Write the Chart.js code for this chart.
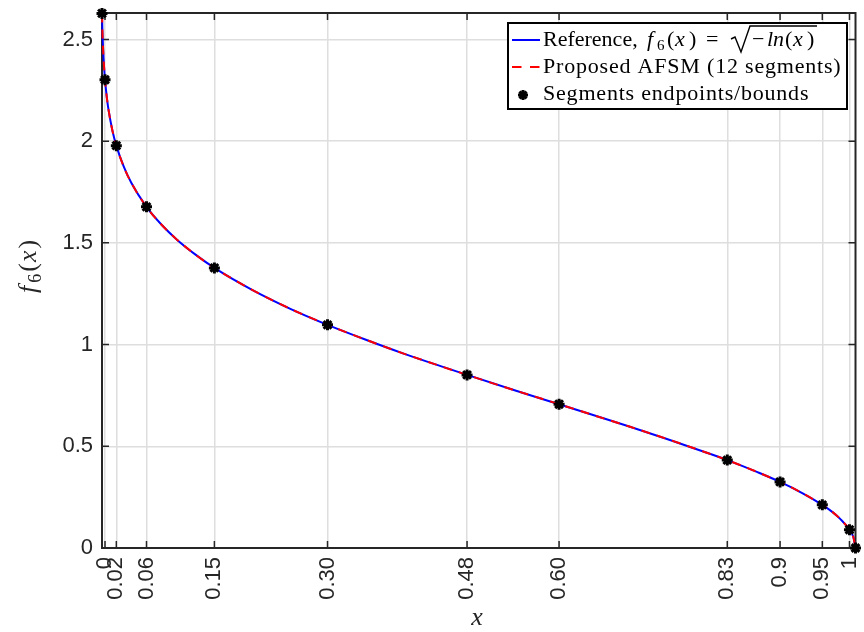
<!DOCTYPE html>
<html>
<head>
<meta charset="utf-8">
<script src="https://cdn.jsdelivr.net/npm/chart.js@4.4.1/dist/chart.umd.min.js"></script>
<style>
  html, body { margin: 0; padding: 0; background: #fff; }
</style>
</head>
<body>
<canvas id="chart" width="864" height="632"></canvas>
<script>
// reference curve
const curveX = [0.001, 0.0015, 0.002, 0.003, 0.005, 0.0075, 0.01, 0.015, 0.02, 0.03, 0.04, 0.06, 0.08, 0.10, 0.125, 0.15,
  0.20, 0.25, 0.30, 0.35, 0.40, 0.45, 0.485, 0.55, 0.607, 0.65, 0.70, 0.75, 0.80, 0.83, 0.87, 0.90, 0.93, 0.956, 0.97, 0.98, 0.992, 0.997, 1.0]
const curveY = [2.628, 2.550, 2.493, 2.410, 2.302, 2.212, 2.146, 2.049, 1.978, 1.873, 1.794, 1.677, 1.589, 1.517, 1.442, 1.377,
  1.269, 1.177, 1.097, 1.025, 0.957, 0.894, 0.851, 0.773, 0.707, 0.656, 0.597, 0.536, 0.472, 0.432, 0.373, 0.325, 0.269, 0.212, 0.175, 0.142, 0.090, 0.055, 0]

// segment endpoints (12 segments -> 13 points)
const endX = [0.001, 0.005, 0.02, 0.06, 0.15, 0.30, 0.485, 0.607, 0.83, 0.90, 0.956, 0.992, 1.0]
const endY = [2.628, 2.302, 1.978, 1.677, 1.377, 1.097, 0.851, 0.707, 0.432, 0.325, 0.212, 0.090, 0]

// ticks
const xTickVals = [0.005, 0.02, 0.06, 0.15, 0.30, 0.485, 0.607, 0.83, 0.90, 0.956, 0.992]
const xTickLabels = ['0', '0.02', '0.06', '0.15', '0.30', '0.48', '0.60', '0.83', '0.9', '0.95', '1']
const yTickVals = [0, 0.5, 1, 1.5, 2, 2.5]

const axisColor = '#262626'
const gridColor = '#dedede'
const tickFont = { family: 'Liberation Sans', size: 22 }
const serif = 'Liberation Serif'

const toPts = (xs, ys) => xs.map((x, i) => ({ x: x, y: ys[i] }))

// draws a run of text pieces left to right, returns end x
function drawRuns(ctx, runs, x, y) {
    for (const r of runs) {
        ctx.font = r.f
        ctx.fillText(r.t, r.x !== undefined ? r.x : x, y + (r.dy || 0))
        x = (r.x !== undefined ? r.x : x) + ctx.measureText(r.t).width + (r.sp || 0)
    }
    return x
}

const framePlugin = {
    id: 'frame',
    beforeDatasetsDraw(chart) {
        const { ctx, chartArea: a, scales } = chart
        const tl = 7
        ctx.save()
        ctx.strokeStyle = axisColor
        ctx.lineWidth = 1.5
        ctx.beginPath()
        for (const v of xTickVals) {
            const px = scales.x.getPixelForValue(v)
            ctx.moveTo(px, a.bottom); ctx.lineTo(px, a.bottom - tl)
            ctx.moveTo(px, a.top); ctx.lineTo(px, a.top + tl)
        }
        for (const v of yTickVals) {
            const py = scales.y.getPixelForValue(v)
            ctx.moveTo(a.left, py); ctx.lineTo(a.left + tl, py)
            ctx.moveTo(a.right, py); ctx.lineTo(a.right - tl, py)
        }
        ctx.stroke()
        ctx.lineWidth = 2
        ctx.strokeRect(a.left, a.top, a.right - a.left, a.bottom - a.top)
        ctx.restore()
    },
    afterDraw(chart) {
        const { ctx } = chart
        ctx.save()
        ctx.textBaseline = 'alphabetic'
        ctx.textAlign = 'left'

        // axis titles
        const it26 = `italic 26px ${serif}`, rm26 = `26px ${serif}`
        ctx.fillStyle = axisColor
        ctx.save()
        ctx.translate(36, 293)
        ctx.rotate(-Math.PI / 2)
        drawRuns(ctx, [
            { t: 'f', f: it26, sp: 3 },
            { t: '6', f: `18px ${serif}`, dy: 5, sp: 2 },
            { t: '(', f: rm26, sp: 1 },
            { t: 'x', f: it26, sp: 2 },
            { t: ')', f: rm26 }
        ], 0, 0)
        ctx.restore()
        ctx.textAlign = 'center'
        ctx.font = it26
        ctx.fillText('x', 477, 625)
        ctx.textAlign = 'left'

        // legend box
        const bx = 508, by = 23, bw = 339, bh = 86
        ctx.fillStyle = '#fff'
        ctx.fillRect(bx, by, bw, bh)
        ctx.strokeStyle = '#000'
        ctx.lineWidth = 2
        ctx.strokeRect(bx, by, bw, bh)

        // samples
        ctx.lineWidth = 2
        ctx.strokeStyle = '#0000ff'
        ctx.beginPath(); ctx.moveTo(512, 40); ctx.lineTo(540, 40); ctx.stroke()
        ctx.strokeStyle = '#ff0000'
        ctx.setLineDash([9.5, 8.5])
        ctx.beginPath(); ctx.moveTo(512, 67); ctx.lineTo(540, 67); ctx.stroke()
        ctx.setLineDash([])
        ctx.strokeStyle = '#000'
        ctx.lineWidth = 3
        Chart.helpers.drawPoint(ctx, { pointStyle: 'star', radius: 5, borderWidth: 3 }, 523, 95)

        // legend texts
        ctx.fillStyle = '#000'
        const rm = `22px ${serif}`, it = `italic 22px ${serif}`
        drawRuns(ctx, [
            { t: 'Reference,', f: rm },
            { t: 'f', f: it, x: 647 },
            { t: '6', f: `15px ${serif}`, dy: 4, x: 657 },
            { t: '(', f: rm, x: 667 },
            { t: 'x', f: it, x: 675 },
            { t: ')', f: rm, x: 689 },
            { t: '=', f: rm, x: 706 },
            { t: '\u2212', f: rm, x: 752 },
            { t: 'ln', f: it, x: 767 },
            { t: '(', f: rm, x: 785 },
            { t: 'x', f: it, x: 793 },
            { t: ')', f: rm, x: 807 }
        ], 543, 46)
        // radical sign over -ln(x)
        ctx.strokeStyle = '#000'
        ctx.lineWidth = 1.4
        ctx.beginPath()
        ctx.moveTo(731, 39); ctx.lineTo(735, 37); ctx.lineTo(741, 52); ctx.lineTo(750, 26); ctx.lineTo(817, 26)
        ctx.stroke()
        ctx.letterSpacing = '0.8px'
        ctx.font = rm
        ctx.fillText('Proposed AFSM (12 segments)', 543, 73)
        ctx.fillText('Segments endpoints/bounds', 543, 100)
        ctx.restore()
    }
}

const config = {
    type: 'line',
    data: {
        datasets: [
            {
                label: 'Segments endpoints/bounds',
                data: toPts(endX, endY),
                showLine: false,
                pointStyle: 'star',
                pointRadius: 5.5,
                pointBorderWidth: 3,
                pointBorderColor: '#000',
                pointBackgroundColor: '#000',
                clip: false,
                order: 0
            },
            {
                label: 'Proposed AFSM (12 segments)',
                data: toPts(curveX, curveY),
                borderColor: '#ff0000',
                borderWidth: 2,
                borderDash: [9, 7],
                pointRadius: 0,
                cubicInterpolationMode: 'monotone',
                clip: false,
                order: 1
            },
            {
                label: 'Reference',
                data: toPts(curveX, curveY),
                borderColor: '#0000ff',
                borderWidth: 2,
                pointRadius: 0,
                cubicInterpolationMode: 'monotone',
                clip: false,
                order: 2
            }
        ]
    },
    options: {
        responsive: false,
        animation: false,
        events: [],
        layout: { padding: { top: 13, right: 6, bottom: 0, left: 0 } },
        plugins: {
            legend: { display: false },
            tooltip: { enabled: false }
        },
        scales: {
            x: {
                type: 'linear',
                min: 0.001,
                max: 1,
                afterBuildTicks: s => { s.ticks = xTickVals.map(v => ({ value: v })) },
                afterFit: s => { s.height = 84; s.paddingLeft = 0; s.paddingRight = 0 },
                border: { display: false },
                grid: { color: gridColor, lineWidth: 1.5, drawTicks: false },
                ticks: {
                    autoSkip: false,
                    minRotation: 90,
                    maxRotation: 90,
                    padding: 9,
                    color: axisColor,
                    font: tickFont,
                    callback: (v, i) => xTickLabels[i]
                }
            },
            y: {
                type: 'linear',
                min: 0,
                max: 2.63,
                afterBuildTicks: s => { s.ticks = yTickVals.map(v => ({ value: v })) },
                afterFit: s => { s.width = 102; s.paddingTop = 0; s.paddingBottom = 0 },
                border: { display: false },
                grid: { color: gridColor, lineWidth: 1.5, drawTicks: false },
                ticks: {
                    padding: 9,
                    color: axisColor,
                    font: tickFont,
                    callback: v => String(v)
                }
            }
        }
    },
    plugins: [framePlugin]
}

const chart = new Chart(document.getElementById('chart'), config)
</script>
</body>
</html>
